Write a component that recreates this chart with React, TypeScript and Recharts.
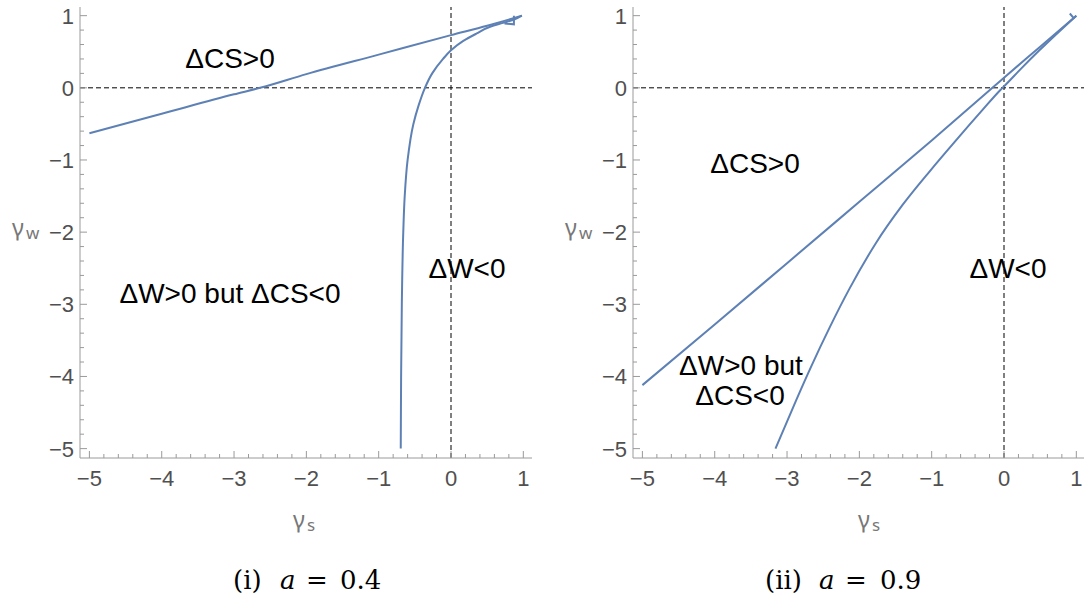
import React from 'react';
import { LineChart, Line, XAxis, YAxis, ReferenceLine } from 'recharts';

// axis ticks (major ones get labels, minor ones are the 0.2 subdivisions)
const majorTicks = [-5, -4, -3, -2, -1, 0, 1];
const minorSteps = [0.2, 0.4, 0.6, 0.8];
const allTicks = majorTicks.concat(
  majorTicks.slice(0, -1).flatMap(t => minorSteps.map(s => +(t + s).toFixed(2)))
);
const domain: [number, number] = [-5.13, 1.12];

// panel (i) a = 0.4
const csBoundaryA = [
  { x: -5, y: -0.63 }, { x: -4, y: -0.36 }, { x: -3, y: -0.09 }, { x: -2.64, y: 0 },
  { x: -2, y: 0.19 }, { x: -1, y: 0.46 }, { x: 0, y: 0.73 }, { x: 0.5, y: 0.86 },
  { x: 0.98, y: 1.0 },
];
const wBoundaryA = [
  { x: -0.695, y: -5 }, { x: -0.69, y: -4 }, { x: -0.68, y: -3 }, { x: -0.66, y: -2 },
  { x: -0.64, y: -1.5 }, { x: -0.6, y: -1.0 }, { x: -0.52, y: -0.5 }, { x: -0.45, y: -0.25 },
  { x: -0.36, y: 0 }, { x: -0.26, y: 0.2 }, { x: -0.11, y: 0.4 }, { x: 0, y: 0.52 },
  { x: 0.17, y: 0.65 }, { x: 0.35, y: 0.75 }, { x: 0.55, y: 0.85 }, { x: 0.72, y: 0.9 },
  { x: 0.88, y: 0.95 }, { x: 0.98, y: 1.0 },
];
const hookA = [{ x: 0.74, y: 0.89 }, { x: 0.87, y: 0.88 }, { x: 0.87, y: 1.0 }];

// panel (ii) a = 0.9
const csBoundaryB = [
  { x: -5, y: -4.12 }, { x: -4, y: -3.28 }, { x: -3, y: -2.43 }, { x: -2, y: -1.58 },
  { x: -1, y: -0.73 }, { x: -0.16, y: 0 }, { x: 0, y: 0.14 }, { x: 0.5, y: 0.57 },
  { x: 1.0, y: 1.0 },
];
const wBoundaryB = [
  { x: -3.16, y: -5 }, { x: -2.87, y: -4.32 }, { x: -2.67, y: -3.87 }, { x: -2.41, y: -3.32 },
  { x: -2.14, y: -2.79 }, { x: -1.77, y: -2.15 }, { x: -1.4, y: -1.62 }, { x: -1.03, y: -1.16 },
  { x: -0.67, y: -0.735 }, { x: -0.3, y: -0.31 }, { x: -0.05, y: -0.03 }, { x: 0, y: 0.02 },
  { x: 0.25, y: 0.28 }, { x: 0.5, y: 0.53 }, { x: 1.0, y: 1.0 },
];
const hookB = [{ x: 0.91, y: 1.03 }, { x: 0.97, y: 0.96 }];

const BLUE = '#5E81B5';
const FRAME = '#9a9a9a';
const TICK_TEXT = '#505050';
const SANS = '"Liberation Sans", Arial, sans-serif';

const isMajor = (v: number) => Math.abs(v - Math.round(v)) < 1e-6;
const fmt = (v: number) => (v < 0 ? '\u2212' + Math.abs(v) : String(v));

const BottomTick = ({ x, y, payload }: any) => {
  const major = isMajor(payload.value);
  return (
    <g>
      <line x1={x} y1={y} x2={x} y2={y - (major ? 7 : 4)} stroke={FRAME} />
      {major && (
        <text x={x} y={y + 28} textAnchor="middle" fontSize={22} fontFamily={SANS} fill={TICK_TEXT}>
          {fmt(payload.value)}
        </text>
      )}
    </g>
  );
};
const TopTick = ({ x, y, payload }: any) => (
  <line x1={x} y1={y} x2={x} y2={y + (isMajor(payload.value) ? 7 : 4)} stroke={FRAME} />
);
const LeftTick = ({ x, y, payload }: any) => {
  const major = isMajor(payload.value);
  return (
    <g>
      <line x1={x} y1={y} x2={x + (major ? 7 : 4)} y2={y} stroke={FRAME} />
      {major && (
        <text x={x - 6} y={y + 8} textAnchor="end" fontSize={22} fontFamily={SANS} fill={TICK_TEXT}>
          {fmt(payload.value)}
        </text>
      )}
    </g>
  );
};
const RightTick = ({ x, y, payload }: any) => (
  <line x1={x} y1={y} x2={x - (isMajor(payload.value) ? 7 : 4)} y2={y} stroke={FRAME} />
);

interface PanelProps {
  left: number;
  cs: { x: number; y: number }[];
  w: { x: number; y: number }[];
  hook: { x: number; y: number }[];
  wCurve: 'monotoneX' | 'monotoneY';
}

const Panel: React.FC<PanelProps> = ({ left, cs, w, hook, wCurve }) => (
  <div style={{ position: 'absolute', left, top: 0 }}>
    <LineChart width={540} height={500} margin={{ top: 7, right: 8, left: 20, bottom: 0 }}>
      <XAxis xAxisId={0} type="number" dataKey="x" domain={domain} allowDataOverflow ticks={allTicks}
        interval={0} tickSize={0} tickMargin={0} tick={BottomTick} height={42} stroke={FRAME} />
      <XAxis xAxisId="t" orientation="top" type="number" domain={domain} allowDataOverflow ticks={allTicks}
        interval={0} tickSize={0} tickMargin={0} tick={TopTick} height={0} stroke={FRAME} />
      <YAxis yAxisId={0} type="number" dataKey="y" domain={domain} allowDataOverflow ticks={allTicks}
        interval={0} tickSize={0} tickMargin={0} tick={LeftTick} width={60} stroke={FRAME} />
      <YAxis yAxisId="r" orientation="right" type="number" domain={domain} allowDataOverflow ticks={allTicks}
        interval={0} tickSize={0} tickMargin={0} tick={RightTick} width={0} stroke={FRAME} />
      <ReferenceLine x={0} stroke="#000" strokeDasharray="5 3" />
      <ReferenceLine y={0} stroke="#000" strokeDasharray="5 3" />
      <Line data={cs} dataKey="y" type="monotoneX" stroke={BLUE} strokeWidth={2} dot={false} isAnimationActive={false} />
      <Line data={w} dataKey="y" type={wCurve} stroke={BLUE} strokeWidth={2} dot={false} isAnimationActive={false} />
      <Line data={hook} dataKey="y" type="linear" stroke={BLUE} strokeWidth={2} dot={false} isAnimationActive={false} />
    </LineChart>
  </div>
);

const regionText = { fontSize: 28, fontFamily: SANS, fill: '#000', textAnchor: 'middle' as const };
const axisLabel = { fontFamily: '"Noto Sans", "DejaVu Sans", sans-serif', fill: '#777' };
const serif = { fontFamily: '"DejaVu Serif", "Liberation Serif", serif', fontSize: 26, fill: '#000' };

const Gamma: React.FC<{ x: number; y: number; sub: string }> = ({ x, y, sub }) => (
  <text x={x} y={y} {...axisLabel} fontSize={23}>
    γ<tspan dx={2} dy={3} fontSize={17}>{sub}</tspan>
  </text>
);

export default function App() {
  return (
    <div style={{ position: 'absolute', left: 0, top: 0, width: 1084, height: 599, overflow: 'hidden', background: '#fff' }}>
      <Panel left={0} cs={csBoundaryA} w={wBoundaryA} hook={hookA} wCurve="monotoneY" />
      <Panel left={553} cs={csBoundaryB} w={wBoundaryB} hook={hookB} wCurve="monotoneX" />
      <svg width={1084} height={599} style={{ position: 'absolute', left: 0, top: 0, pointerEvents: 'none' }}>
        {/* panel (i) labels */}
        <text x={230} y={68} {...regionText}>ΔCS&gt;0</text>
        <text x={230} y={303} {...regionText}>ΔW&gt;0 but ΔCS&lt;0</text>
        <text x={467} y={278} {...regionText}>ΔW&lt;0</text>
        {/* panel (ii) labels */}
        <text x={755} y={173} {...regionText}>ΔCS&gt;0</text>
        <text x={1008} y={278} {...regionText}>ΔW&lt;0</text>
        <text x={741} y={375} {...regionText}>ΔW&gt;0 but</text>
        <text x={740} y={405} {...regionText}>ΔCS&lt;0</text>
        {/* axis labels */}
        <Gamma x={12} y={236} sub="w" />
        <Gamma x={565} y={236} sub="w" />
        <Gamma x={293} y={528} sub="s" />
        <Gamma x={858} y={528} sub="s" />
        {/* captions */}
        <text x={233} y={589} {...serif}>(i)</text>
        <text x={280} y={589} {...serif} fontStyle="italic">a</text>
        <text x={306} y={589} {...serif}>=</text>
        <text x={340} y={589} {...serif}>0.4</text>
        <text x={765} y={589} {...serif}>(ii)</text>
        <text x={819} y={589} {...serif} fontStyle="italic">a</text>
        <text x={845} y={589} {...serif}>=</text>
        <text x={880} y={589} {...serif}>0.9</text>
      </svg>
    </div>
  );
}
